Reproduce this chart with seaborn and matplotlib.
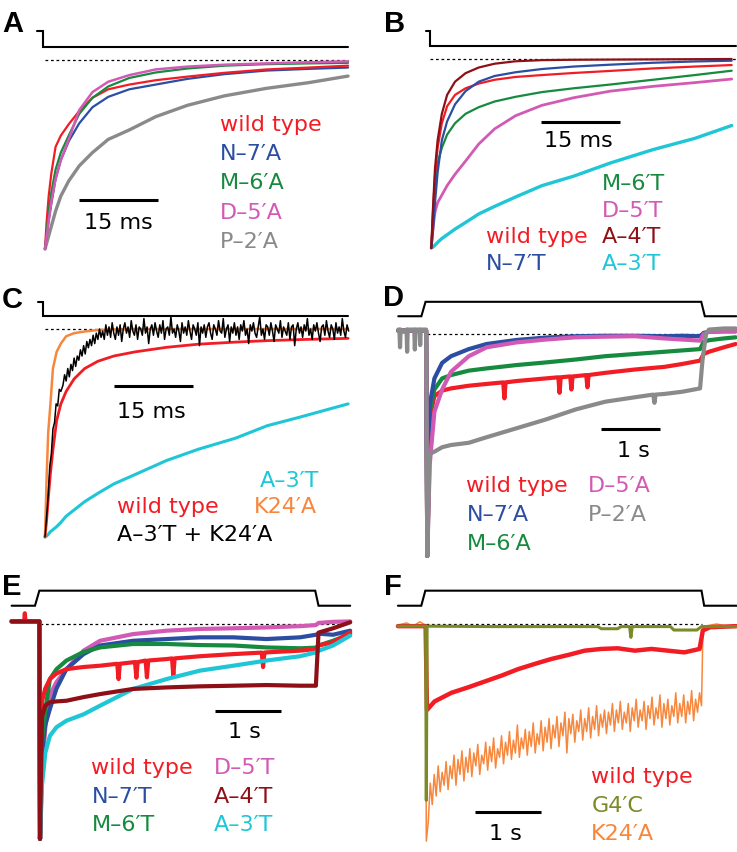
import numpy as np
import matplotlib
matplotlib.use("Agg")
import matplotlib.pyplot as plt
import seaborn as sns

sns.set_theme(style="white")
plt.rcParams["font.family"] = ["DejaVu Sans"]
plt.rcParams["text.color"] = "black"

RED = "#f21d24"
BLUE = "#2b4ea2"
GREEN = "#168a3e"
MAGENTA = "#d35ab4"
GRAY = "#8a8a8a"
DARKRED = "#8e1016"
CYAN = "#1ec6d6"
ORANGE = "#f7873c"
OLIVE = "#7b8a26"

# ---- A: deactivation, alanine mutants (time in ms, current normalised to peak)
a_t = [0, 0.3, 0.7, 1.2, 2, 3, 4.5, 6.5, 9, 12, 16, 21, 27, 34, 42, 50, 57.5]
a_wt = [-1, -0.86, -0.72, -0.6, -0.46, -0.40, -0.34, -0.27, -0.2, -0.155, -0.13, -0.107, -0.088, -0.068, -0.05, -0.04, -0.03]
a_n7a = [-1, -0.93, -0.85, -0.76, -0.63, -0.53, -0.43, -0.335, -0.25, -0.195, -0.155, -0.13, -0.1, -0.075, -0.056, -0.047, -0.04]
a_m6a = [-1, -0.92, -0.8, -0.7, -0.58, -0.49, -0.4, -0.285, -0.2, -0.14, -0.095, -0.066, -0.045, -0.03, -0.022, -0.018, -0.015]
a_d5a = [-1, -0.94, -0.85, -0.75, -0.63, -0.53, -0.42, -0.265, -0.17, -0.115, -0.08, -0.05, -0.035, -0.025, -0.018, -0.012, -0.007]
a_p2a = [-1, -0.97, -0.93, -0.88, -0.8, -0.72, -0.64, -0.56, -0.49, -0.42, -0.37, -0.3, -0.24, -0.19, -0.15, -0.12, -0.085]

# ---- B: deactivation, threonine mutants (ms)
b_t = [0, 0.3, 0.7, 1.2, 2, 3, 4.5, 6.5, 9, 12, 16, 21, 27, 34, 42, 50, 57]
b_wt = [-1, -0.82, -0.62, -0.47, -0.34, -0.25, -0.19, -0.155, -0.13, -0.11, -0.095, -0.085, -0.074, -0.063, -0.05, -0.04, -0.032]
b_n7t = [-1, -0.92, -0.76, -0.6, -0.43, -0.33, -0.24, -0.17, -0.12, -0.09, -0.07, -0.053, -0.04, -0.03, -0.02, -0.013, -0.009]
b_m6t = [-1, -0.85, -0.66, -0.55, -0.47, -0.4, -0.34, -0.29, -0.255, -0.225, -0.2, -0.175, -0.155, -0.135, -0.11, -0.085, -0.062]
b_d5t = [-1, -0.9, -0.81, -0.76, -0.72, -0.67, -0.61, -0.54, -0.45, -0.37, -0.3, -0.245, -0.205, -0.17, -0.145, -0.125, -0.106]
b_a4t = [-1, -0.8, -0.58, -0.43, -0.29, -0.19, -0.12, -0.075, -0.045, -0.025, -0.012, -0.006, -0.004, -0.003, -0.002, -0.001, 0]
b_a3t = [-1, -0.995, -0.985, -0.97, -0.95, -0.93, -0.9, -0.865, -0.82, -0.78, -0.73, -0.67, -0.62, -0.55, -0.48, -0.42, -0.352]

# ---- C: A-3'T rescued by K24'A (ms)
c_t = [0, 0.3, 0.6, 1, 1.5, 2.2, 3, 4, 5.5, 7.5, 10, 13, 17, 23, 29, 36, 42, 48, 57.3]
c_wt = [-1, -0.92, -0.82, -0.7, -0.58, -0.44, -0.36, -0.3, -0.24, -0.19, -0.155, -0.13, -0.11, -0.088, -0.073, -0.063, -0.056, -0.051, -0.045]
c_a3t = [-1, -0.995, -0.988, -0.975, -0.965, -0.95, -0.93, -0.9, -0.87, -0.83, -0.79, -0.745, -0.70, -0.632, -0.578, -0.525, -0.465, -0.425, -0.36]
c_k24a = [-1, -0.72, -0.5, -0.37, -0.19, -0.11, -0.07, -0.035, -0.02, -0.012, -0.005, -0.002, 0, 0, 0, 0, 0, 0, 0]
c_dbl_t = [0, 0.3, 0.6, 0.9, 1.2, 1.5, 1.8, 2.1, 2.4, 2.7, 3.0]
c_dbl = [-1, -0.9, -0.8, -0.66, -0.6, -0.48, -0.45, -0.36, -0.37, -0.29, -0.3]
c_dbl_dt = 0.3  # sample interval of the noisy part, from 3.4 ms on
c_dbl_noisy = [-0.27, -0.22, -0.25, -0.19, -0.23, -0.17, -0.20, -0.14, -0.18, -0.13,
               -0.15, -0.10, -0.13, -0.08, -0.12, -0.06, -0.09, -0.05, -0.08, -0.03,
               -0.07, -0.02, -0.05, 0.00, -0.04, -0.01, -0.05, 0.02, -0.03, 0.01,
               -0.04, 0.03, -0.02, -0.05, 0.01, -0.03, 0.02, -0.06, 0.00, 0.03,
               -0.02, 0.01, -0.04, 0.04, -0.01, -0.03, 0.02, -0.05, 0.01, 0.00,
               -0.03, 0.05, -0.02, 0.01, -0.07, 0.00, 0.02, -0.03, 0.03, -0.01,
               -0.04, 0.02, -0.02, 0.04, -0.05, 0.00, 0.01, -0.03, 0.06, -0.02,
               0.00, -0.04, 0.02, -0.01, -0.06, 0.03, -0.02, 0.01, -0.03, 0.04,
               -0.01, -0.05, 0.02, 0.00, -0.03, 0.03, -0.08, 0.01, -0.02, 0.02,
               -0.04, 0.01, 0.03, -0.02, -0.05, 0.02, 0.00, -0.03, 0.04, -0.01,
               -0.02, 0.05, -0.04, 0.00, 0.02, -0.06, 0.01, -0.02, 0.03, -0.03,
               0.01, -0.05, 0.02, -0.01, 0.04, -0.03, 0.00, -0.07, 0.02, -0.01,
               0.03, -0.02, -0.04, 0.01, 0.06, -0.03, 0.00, -0.05, 0.02, 0.01,
               -0.03, 0.03, -0.01, -0.06, 0.02, 0.00, -0.02, 0.04, -0.04, 0.01,
               -0.01, -0.03, 0.03, -0.05, 0.01, 0.02, -0.08, 0.00, 0.03, -0.02,
               0.01, -0.04, 0.02, -0.01, 0.05, -0.03, 0.00, -0.05, 0.02, -0.01,
               0.03, -0.02, -0.06, 0.01, 0.02, -0.03, 0.04, -0.01, -0.04, 0.02,
               0.00, -0.05, 0.03, -0.02, 0.01, -0.03, 0.05, -0.01, -0.04, 0.02,
               -0.01]

# ---- D: desensitisation, alanine mutants (time in s)
d_t = [-0.49, -0.02, 0, 0.04, 0.12, 0.25, 0.4, 0.7, 1.0, 1.5, 2.0, 2.5, 3.0, 3.5, 4.0, 4.3, 4.6, 4.66, 4.75, 5.0, 5.2]
d_n7a = [0.015, 0.015, -1, -0.32, -0.2, -0.13, -0.1, -0.068, -0.045, -0.027, -0.016, -0.01, -0.008, -0.008, -0.01, -0.008, -0.01, 0.005, 0.01, 0.012, 0.012]
d_m6a = [0.015, 0.015, -1, -0.35, -0.25, -0.2, -0.185, -0.165, -0.155, -0.14, -0.128, -0.115, -0.1, -0.09, -0.08, -0.074, -0.068, -0.035, -0.028, -0.02, -0.015]
d_d5a = [0.015, 0.015, -1, -0.59, -0.35, -0.25, -0.17, -0.1, -0.06, -0.038, -0.025, -0.015, -0.012, -0.01, -0.02, -0.025, -0.03, 0.0, 0.01, 0.012, 0.012]
d_wt_t = [-0.49, -0.02, 0, 0.04, 0.12, 0.25, 0.4, 0.7, 1.0, 1.28, 1.30, 1.32, 1.5, 2.0, 2.21, 2.23, 2.25,
          2.41, 2.43, 2.45, 2.5, 2.68, 2.70, 2.72, 3.0, 3.5, 4.0, 4.3, 4.6, 4.66, 4.75, 5.0, 5.2]
d_wt = [0.015, 0.015, -1, -0.38, -0.28, -0.255, -0.245, -0.233, -0.225, -0.218, -0.29, -0.218, -0.212, -0.2, -0.195, -0.265, -0.195,
        -0.191, -0.25, -0.191, -0.19, -0.185, -0.24, -0.185, -0.175, -0.16, -0.148, -0.135, -0.12, -0.09, -0.08, -0.06, -0.045]
d_p2a_t = [-0.49, -0.47, -0.46, -0.45, -0.40, -0.35, -0.34, -0.33, -0.25, -0.22, -0.21, -0.20, -0.15, -0.13, -0.12, -0.11, -0.02,
           0, 0.04, 0.12, 0.25, 0.4, 0.7, 1.0, 1.5, 2.0, 2.5, 3.0, 3.5, 3.81, 3.83, 3.85, 4.0, 4.3, 4.6,
           4.64, 4.7, 4.75, 5.0, 5.2]
d_p2a = [0.02, 0.02, -0.06, 0.02, 0.01, 0.02, -0.08, 0.02, 0.02, 0.02, -0.07, 0.02, 0.02, 0.02, -0.05, 0.02, 0.02,
         -1, -0.54, -0.53, -0.51, -0.5, -0.49, -0.465, -0.425, -0.385, -0.34, -0.305, -0.285, -0.273, -0.31, -0.273, -0.27, -0.26, -0.245,
         -0.12, 0.0, 0.02, 0.025, 0.025]

# ---- E: desensitisation, threonine mutants (s)
e_t = [-0.43, -0.01, 0, 0.03, 0.08, 0.15, 0.25, 0.4, 0.66, 0.91, 1.41, 1.92, 2.42, 2.93, 3.43, 3.94, 4.18, 4.22, 4.44, 4.7]
e_d5t = [0.012, 0.012, -1, -0.7, -0.48, -0.33, -0.27, -0.21, -0.124, -0.078, -0.047, -0.031, -0.023, -0.02, -0.016, -0.01, -0.005, 0.005, 0.01, 0.012]
e_n7t = [0.012, 0.012, -1, -0.6, -0.47, -0.395, -0.3, -0.21, -0.14, -0.1, -0.078, -0.07, -0.062, -0.062, -0.07, -0.062, -0.05, -0.045, -0.05, -0.031]
e_m6t = [0.012, 0.012, -1, -0.55, -0.4, -0.256, -0.21, -0.17, -0.13, -0.109, -0.093, -0.093, -0.098, -0.1, -0.109, -0.113, -0.11, -0.1, -0.078, -0.047]
e_a3t = [0.012, 0.012, -1, -0.75, -0.6, -0.52, -0.48, -0.45, -0.42, -0.38, -0.302, -0.256, -0.217, -0.194, -0.17, -0.15, -0.132, -0.125, -0.1, -0.054]
e_a4t = [0.012, 0.012, -1, -0.43, -0.38, -0.364, -0.36, -0.357, -0.34, -0.326, -0.302, -0.295, -0.29, -0.287, -0.284, -0.287, -0.287, -0.04, -0.02, 0.008]
e_wt_t = [-0.43, -0.24, -0.23, -0.22, -0.01, 0, 0.03, 0.08, 0.15, 0.25, 0.4, 0.66, 0.91, 1.17, 1.19, 1.21, 1.41,
          1.44, 1.46, 1.48, 1.60, 1.62, 1.64, 1.92, 2.00, 2.02, 2.04, 2.42, 2.93, 3.36, 3.38, 3.40,
          3.43, 3.94, 4.18, 4.22, 4.44, 4.7]
e_wt = [0.012, 0.012, 0.05, 0.012, 0.012, -1, -0.36, -0.3, -0.256, -0.23, -0.21, -0.2, -0.194, -0.185, -0.256, -0.185, -0.178,
        -0.177, -0.25, -0.177, -0.17, -0.248, -0.17, -0.163, -0.16, -0.24, -0.16, -0.15, -0.14, -0.133, -0.2, -0.133,
        -0.132, -0.124, -0.116, -0.1, -0.085, -0.039]

# ---- F: G4'C and K24'A (s)
f_wt_t = [-0.43, -0.01, 0.01, 0.126, 0.38, 0.63, 1.14, 1.39, 1.64, 1.89, 2.15, 2.4, 2.65, 2.9, 3.16, 3.41, 3.66, 3.91, 4.14, 4.19, 4.3, 4.7]
f_wt = [-0.01, -0.01, -0.4, -0.36, -0.32, -0.295, -0.24, -0.21, -0.186, -0.163, -0.144, -0.124, -0.116, -0.113, -0.124, -0.116, -0.124, -0.132, -0.116, -0.03, -0.015, -0.01]
f_g4c_t = [-0.43, -0.01, 0.0, 0.012, 1.0, 2.6, 2.65, 2.9, 2.95, 3.08, 3.1, 3.12, 3.7, 3.75, 4.1, 4.17, 4.7]
f_g4c = [-0.01, -0.01, -0.82, -0.01, -0.012, -0.012, -0.022, -0.022, -0.012, -0.012, -0.062, -0.012, -0.012, -0.028, -0.028, -0.012, -0.012]
f_k24a_pre_t = [-0.43, -0.3, -0.2, -0.1, -0.01, 0.0]
f_k24a_pre = [-0.005, 0.005, -0.01, 0.01, -0.005, -1.01]
f_k24a_dt = 0.03  # sample interval of the noisy part
f_k24a_noisy = [-0.92, -0.74, -0.84, -0.70, -0.80, -0.66, -0.78, -0.69, -0.75, -0.64,
                -0.77, -0.66, -0.72, -0.61, -0.75, -0.63, -0.70, -0.59, -0.73, -0.62,
                -0.69, -0.58, -0.71, -0.60, -0.66, -0.56, -0.70, -0.61, -0.65, -0.55,
                -0.68, -0.57, -0.64, -0.53, -0.67, -0.58, -0.62, -0.52, -0.65, -0.55,
                -0.61, -0.50, -0.63, -0.54, -0.60, -0.47, -0.62, -0.53, -0.58, -0.49,
                -0.61, -0.50, -0.57, -0.46, -0.60, -0.51, -0.56, -0.45, -0.59, -0.48,
                -0.55, -0.44, -0.58, -0.47, -0.53, -0.43, -0.57, -0.46, -0.52, -0.41,
                -0.60, -0.44, -0.51, -0.42, -0.55, -0.45, -0.50, -0.40, -0.54, -0.44,
                -0.50, -0.39, -0.53, -0.43, -0.49, -0.38, -0.52, -0.42, -0.48, -0.40,
                -0.51, -0.41, -0.47, -0.37, -0.50, -0.40, -0.46, -0.36, -0.49, -0.41,
                -0.46, -0.37, -0.50, -0.39, -0.45, -0.35, -0.48, -0.40, -0.45, -0.36,
                -0.49, -0.38, -0.44, -0.34, -0.47, -0.39, -0.44, -0.33, -0.48, -0.37,
                -0.44, -0.35, -0.47, -0.38, -0.43, -0.32, -0.46, -0.37, -0.43, -0.33,
                -0.46, -0.36, -0.42, -0.31, -0.45, -0.35, -0.41, -0.32]
f_k24a_post_t = [4.17, 4.19, 4.21, 4.4, 4.55, 4.7]
f_k24a_post = [-0.38, -0.05, -0.01, 0.0, -0.01, -0.005]

# ---------------------------------------------------------------
W, H = 737, 853
fig = plt.figure(figsize=(W / 100, H / 100), dpi=100)


def make_panel(box, x0, sx, y0, sy):
    # box in pixels; x0/y0 = pixel of t=0 / baseline, sx/sy = pixels per unit
    left, top, right, bottom = box
    ax = fig.add_axes([left / W, 1 - bottom / H, (right - left) / W, (bottom - top) / H])
    ax.set_xlim((left - x0) / sx, (right - x0) / sx)
    ax.set_ylim((y0 - bottom) / sy, (y0 - top) / sy)
    ax.axis("off")
    return ax


def trace(ax, t, v, color, lw):
    sns.lineplot(x=t, y=v, ax=ax, color=color, linewidth=lw, estimator=None, sort=False)


def stim(ax, t, v):
    ax.plot(t, v, color="black", lw=1.5, solid_joinstyle="miter")


def baseline(ax, t0, t1):
    ax.plot([t0, t1], [0, 0], color="black", lw=0.9, ls=(0, (2.2, 2.2)))


def scalebar(ax, t0, t1, y, label, lx, ly):
    ax.plot([t0, t1], [y, y], color="black", lw=2.2, solid_capstyle="butt")
    ax.text(lx, ly, label, ha="center", va="baseline", fontsize=16, color="black")


def labels(ax, items):
    for x, y, s, c in items:
        ax.text(x, y, s, color=c, fontsize=16, ha="left", va="baseline")


def letter(x, y, s):
    fig.text(x / W, 1 - y / H, s, fontsize=21, fontweight="bold", color="black",
             family=["Liberation Sans", "DejaVu Sans"], va="baseline", ha="left")


# A
ax = make_panel((0, 0, 368, 283), 45, 5.27, 61, 189)
stim(ax, [-1.6, -0.3, -0.3, 57.5], [0.152, 0.152, 0.07, 0.07])
baseline(ax, 0, 57.5)
trace(ax, a_t, a_p2a, GRAY, 2.4)
trace(ax, a_t, a_n7a, BLUE, 1.6)
trace(ax, a_t, a_wt, RED, 1.6)
trace(ax, a_t, a_m6a, GREEN, 1.6)
trace(ax, a_t, a_d5a, MAGENTA, 1.8)
scalebar(ax, 6.45, 21.45, -0.741, "15 ms", 13.95, -0.889)
labels(ax, [(33.2, -0.369, "wild type", RED), (33.2, -0.524, "N\u20137\u2032A", BLUE),
            (33.2, -0.679, "M\u20136\u2032A", GREEN), (33.2, -0.834, "D\u20135\u2032A", MAGENTA),
            (33.2, -0.989, "P\u20132\u2032A", GRAY)])

# B
ax = make_panel((368, 0, 737, 283), 431.3, 5.27, 60, 189)
stim(ax, [-0.95, -0.25, -0.25, 57.8], [0.147, 0.147, 0.067, 0.067])
baseline(ax, -0.25, 57.8)
trace(ax, b_t, b_a3t, CYAN, 2.4)
trace(ax, b_t, b_d5t, MAGENTA, 2.0)
trace(ax, b_t, b_m6t, GREEN, 1.6)
trace(ax, b_t, b_wt, RED, 1.6)
trace(ax, b_t, b_n7t, BLUE, 1.6)
trace(ax, b_t, b_a4t, DARKRED, 1.6)
scalebar(ax, 20.9, 35.9, -0.332, "15 ms", 28.0, -0.459)
labels(ax, [(32.3, -0.688, "M\u20136\u2032T", GREEN), (32.3, -0.829, "D\u20135\u2032T", MAGENTA),
            (32.3, -0.970, "A\u20134\u2032T", DARKRED), (32.3, -1.111, "A\u20133\u2032T", CYAN),
            (10.4, -0.970, "wild type", RED), (10.4, -1.111, "N\u20137\u2032T", BLUE)])

# C
ax = make_panel((0, 283, 368, 570), 45, 5.29, 330, 208)
stim(ax, [-1.27, -0.32, -0.32, 57.3], [0.131, 0.131, 0.064, 0.064])
baseline(ax, 0, 57.3)
trace(ax, c_t, c_a3t, CYAN, 2.2)
trace(ax, c_t, c_wt, RED, 2.0)
trace(ax, c_t, c_k24a, ORANGE, 1.8)
c_dbl_all_t = list(c_dbl_t) + list(3.4 + c_dbl_dt * np.arange(len(c_dbl_noisy)))
trace(ax, c_dbl_all_t, c_dbl + c_dbl_noisy, "black", 1.1)
scalebar(ax, 13.0, 28.0, -0.275, "15 ms", 20.2, -0.425)
labels(ax, [(40.6, -0.753, "A\u20133\u2032T", CYAN), (13.6, -0.881, "wild type", RED),
            (39.4, -0.881, "K24\u2032A", ORANGE), (13.6, -1.013, "A\u20133\u2032T + K24\u2032A", "black")])

# D
ax = make_panel((368, 283, 737, 570), 427.3, 59.3, 335, 222)
stim(ax, [-0.49, -0.10, -0.03, 4.62, 4.68, 5.21], [0.08, 0.08, 0.145, 0.145, 0.08, 0.08])
baseline(ax, 0, 4.62)
trace(ax, d_wt_t, d_wt, RED, 3.0)
trace(ax, d_t, d_m6a, GREEN, 3.0)
trace(ax, d_t, d_n7a, BLUE, 3.0)
trace(ax, d_t, d_d5a, MAGENTA, 3.0)
trace(ax, d_p2a_t, d_p2a, GRAY, 3.0)
scalebar(ax, 2.93, 3.93, -0.428, "1 s", 3.47, -0.548)
labels(ax, [(0.66, -0.706, "wild type", RED), (0.66, -0.837, "N\u20137\u2032A", BLUE),
            (0.66, -0.970, "M\u20136\u2032A", GREEN), (2.71, -0.706, "D\u20135\u2032A", MAGENTA),
            (2.71, -0.837, "P\u20132\u2032A", GRAY)])

# E
ax = make_panel((0, 570, 368, 853), 40, 66, 625, 215)
stim(ax, [-0.43, -0.076, -0.01, 4.17, 4.22, 4.7], [0.085, 0.085, 0.155, 0.155, 0.085, 0.085])
baseline(ax, 0, 4.65)
trace(ax, e_t, e_d5t, MAGENTA, 3.0)
trace(ax, e_t, e_n7t, BLUE, 3.0)
trace(ax, e_t, e_m6t, GREEN, 3.0)
trace(ax, e_wt_t, e_wt, RED, 3.0)
trace(ax, e_t, e_a3t, CYAN, 3.0)
trace(ax, e_t, e_a4t, DARKRED, 3.0)
scalebar(ax, 2.65, 3.65, -0.403, "1 s", 3.1, -0.527)
labels(ax, [(0.78, -0.693, "wild type", RED), (0.78, -0.829, "N\u20137\u2032T", BLUE),
            (0.78, -0.957, "M\u20136\u2032T", GREEN), (2.63, -0.693, "D\u20135\u2032T", MAGENTA),
            (2.63, -0.829, "A\u20134\u2032T", DARKRED), (2.63, -0.957, "A\u20133\u2032T", CYAN)])

# F
ax = make_panel((368, 570, 737, 853), 426.3, 66, 625, 215)
stim(ax, [-0.43, -0.076, -0.015, 4.17, 4.21, 4.7], [0.085, 0.085, 0.155, 0.155, 0.085, 0.085])
baseline(ax, 0, 4.17)
f_k24a_t = (f_k24a_pre_t + list(f_k24a_dt * np.arange(1, len(f_k24a_noisy) + 1))
            + f_k24a_post_t)
trace(ax, f_k24a_t, f_k24a_pre + f_k24a_noisy + f_k24a_post, ORANGE, 1.1)
trace(ax, f_wt_t, f_wt, RED, 3.2)
trace(ax, f_g4c_t, f_g4c, OLIVE, 2.2)
scalebar(ax, 0.733, 1.733, -0.876, "1 s", 1.2, -1.0)
labels(ax, [(2.50, -0.737, "wild type", RED), (2.50, -0.868, "G4\u2032C", OLIVE),
            (2.50, -1.0, "K24\u2032A", ORANGE)])

for x, y, s in [(2, 32, "A"), (384, 32, "B"), (2, 308, "C"),
                (383, 306, "D"), (2, 595, "E"), (384, 595, "F")]:
    letter(x, y, s)

fig.savefig("out.png", dpi=100, facecolor="white")
